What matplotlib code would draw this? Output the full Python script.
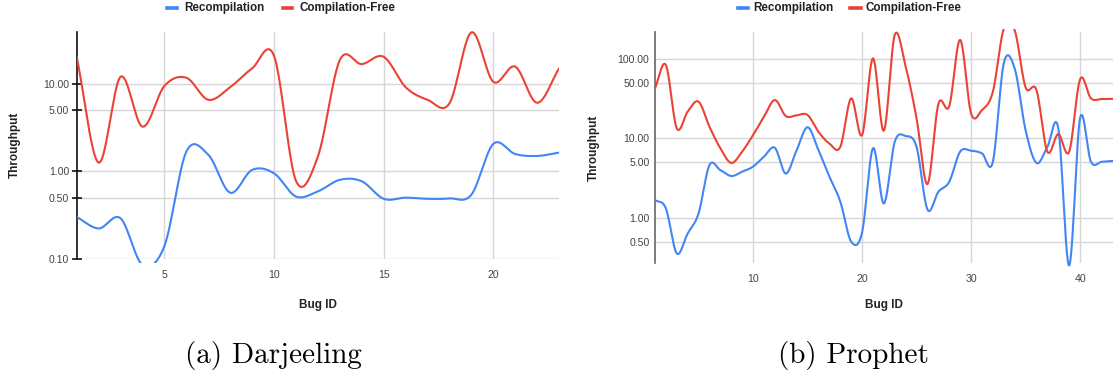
import numpy as np
import matplotlib
matplotlib.use("Agg")
import matplotlib.pyplot as plt
from matplotlib.lines import Line2D
from matplotlib.patches import Rectangle
from matplotlib.ticker import FixedLocator, FixedFormatter, NullLocator

plt.rcParams["font.family"] = ["Liberation Sans", "DejaVu Sans"]

BLUE = "#4285F4"
RED = "#EA4335"
GRID = "#d6d6d6"
TICK = "#444444"

# Darjeeling throughput per bug
darj_ids = list(range(1, 24))
darj_recomp = [0.30, 0.222, 0.29, 0.085, 0.14, 1.68, 1.55, 0.57, 1.04, 0.95, 0.515, 0.59,
               0.80, 0.77, 0.485, 0.50, 0.485, 0.49, 0.54, 2.06, 1.58, 1.50, 1.64]
darj_free = [20.5, 1.26, 12.1, 3.25, 9.5, 11.8, 6.6, 9.2, 15.1, 21.0, 0.78, 1.48,
             18.8, 16.9, 20.5, 9.2, 6.6, 6.0, 39.0, 10.6, 15.8, 6.1, 15.1]

# Prophet throughput per bug
proph_ids = list(range(1, 44))
proph_recomp = [1.67, 1.31, 0.355, 0.63, 1.13, 4.6, 3.98, 3.35, 3.8, 4.4, 5.87, 7.6, 3.6,
                7.1, 13.8, 7.1, 3.3, 1.6, 0.5, 0.65, 7.5, 1.51, 9.06, 10.7, 7.8, 1.27,
                2.12, 2.84, 6.8, 6.98, 6.47, 5.07, 88.0, 76.0, 12.7, 4.9, 7.8, 13.4,
                0.25, 17.9, 5.07, 5.07, 5.2]
proph_free = [42.7, 84.0, 13.4, 21.7, 29.0, 14.0, 7.5, 4.9, 6.8, 11.0, 18.7, 30.4, 19.1,
              19.5, 19.7, 12.1, 8.6, 7.8, 31.9, 11.0, 102.0, 12.5, 201.0, 80.0, 17.9,
              2.65, 27.0, 25.5, 174.0, 20.6, 22.7, 38.7, 240.0, 230.0, 44.0, 40.6, 6.8,
              11.3, 6.8, 55.5, 31.9, 31.3, 31.5]

darj_yticks = [0.1, 0.5, 1, 5, 10]
proph_yticks = [0.5, 1, 5, 10, 50, 100]
darj_xticks = [5, 10, 15, 20]
proph_xticks = [10, 20, 30, 40]


def smooth(xs, ys, n=24):
    """Catmull-Rom curve through the points, worked out in log space."""
    x = np.asarray(xs, float)
    y = np.log10(np.asarray(ys, float))
    xp = np.concatenate([[2 * x[0] - x[1]], x, [2 * x[-1] - x[-2]]])
    yp = np.concatenate([[2 * y[0] - y[1]], y, [2 * y[-1] - y[-2]]])
    out_x, out_y = [], []
    t = np.linspace(0, 1, n, endpoint=False)
    for i in range(1, len(xp) - 2):
        m0 = (yp[i + 1] - yp[i - 1]) / 2
        m1 = (yp[i + 2] - yp[i]) / 2
        h00 = 2 * t**3 - 3 * t**2 + 1
        h10 = t**3 - 2 * t**2 + t
        h01 = -2 * t**3 + 3 * t**2
        h11 = t**3 - t**2
        out_y.append(h00 * yp[i] + h10 * m0 + h01 * yp[i + 1] + h11 * m1)
        out_x.append(xp[i] + t * (xp[i + 1] - xp[i]))
    out_x.append([x[-1]])
    out_y.append([y[-1]])
    return np.concatenate(out_x), 10 ** np.concatenate(out_y)


def panel(rect, ids, recomp, free, ylim, yticks, xticks, dark_axis):
    ax = fig.add_axes(rect)
    ax.set_yscale("log")
    ax.set_xlim(ids[0], ids[-1])
    ax.set_ylim(*ylim)
    for s in ["top", "right", "bottom"]:
        ax.spines[s].set_visible(False)
    ax.spines["left"].set_color("#111111" if dark_axis else "#666666")
    ax.spines["left"].set_linewidth(1.2)

    ax.yaxis.set_major_locator(FixedLocator(yticks))
    ax.yaxis.set_major_formatter(FixedFormatter([f"{v:.2f}" for v in yticks]))
    ax.yaxis.set_minor_locator(NullLocator())
    ax.xaxis.set_major_locator(FixedLocator(xticks))
    ax.xaxis.set_minor_locator(NullLocator())
    ax.tick_params(axis="x", length=0, pad=8, labelsize=7.6, labelcolor=TICK)
    if dark_axis:
        ax.tick_params(axis="y", direction="inout", length=7, width=1.2, color="#111111",
                       pad=2, labelsize=7.6, labelcolor=TICK)
    else:
        ax.tick_params(axis="y", length=0, pad=4, labelsize=7.6, labelcolor=TICK)

    for v in yticks:
        ax.axhline(v, color=GRID, lw=1.0, zorder=0)
    for v in xticks:
        ax.axvline(v, color=GRID, lw=1.0, zorder=0)

    clip = Rectangle((0, -0.018), 1, 1.027, transform=ax.transAxes, fc="none", ec="none")
    ax.add_patch(clip)
    for ys, c in [(recomp, BLUE), (free, RED)]:
        sx, sy = smooth(ids, ys)
        ln, = ax.plot(sx, sy, color=c, lw=1.5, solid_capstyle="round", zorder=3)
        ln.set_clip_path(clip)

    ax.set_ylabel("Throughput", fontsize=8.5, fontweight="bold", color="#222222")
    return ax


fig = plt.figure(figsize=(11.15, 3.78), dpi=100)

ax1 = panel([0.0688, 0.3156, 0.4326, 0.6005], darj_ids, darj_recomp, darj_free,
            (0.1, 39.7), darj_yticks, darj_xticks, True)
ax1.yaxis.set_label_coords(-(76.7 - 21) / 482.3, 0.5)

ax2 = panel([0.5874, 0.3034, 0.4106, 0.6132], proph_ids, proph_recomp, proph_free,
            (0.266, 222), proph_yticks, proph_xticks, False)
ax2.yaxis.set_label_coords(-(654.9 - 600) / 457.8, 0.5)

W, H = 1115, 378


def fx(px):
    return px / W


def fy(py):
    return 1 - py / H


# x-axis titles
fig.text(fx(318), fy(305), "Bug ID", ha="center", va="center", fontsize=8.5,
         fontweight="bold", color="#222222")
fig.text(fx(884), fy(305), "Bug ID", ha="center", va="center", fontsize=8.5,
         fontweight="bold", color="#222222")

# legends
for (b0, b1, bt, r0, r1, rt) in [(166.7, 176.7, 184, 282.7, 291.7, 299.3),
                                 (738.3, 747.5, 753.3, 850, 861, 865)]:
    fig.add_artist(Line2D([fx(b0), fx(b1)], [fy(7.5), fy(7.5)], color=BLUE, lw=2.6,
                          transform=fig.transFigure))
    fig.text(fx(bt), fy(7.5), "Recompilation", ha="left", va="center", fontsize=8.4,
             fontweight="bold", color="#222222")
    fig.add_artist(Line2D([fx(r0), fx(r1)], [fy(7.5), fy(7.5)], color=RED, lw=2.6,
                          transform=fig.transFigure))
    fig.text(fx(rt), fy(7.5), "Compilation-Free", ha="left", va="center", fontsize=8.4,
             fontweight="bold", color="#222222")

# sub-figure captions
fig.text(fx(273), fy(356), "(a) Darjeeling", ha="center", va="center", fontsize=21,
         family="cmr10")
fig.text(fx(853), fy(356), "(b) Prophet", ha="center", va="center", fontsize=21,
         family="cmr10")

fig.savefig("out.png", dpi=100, facecolor="white")
